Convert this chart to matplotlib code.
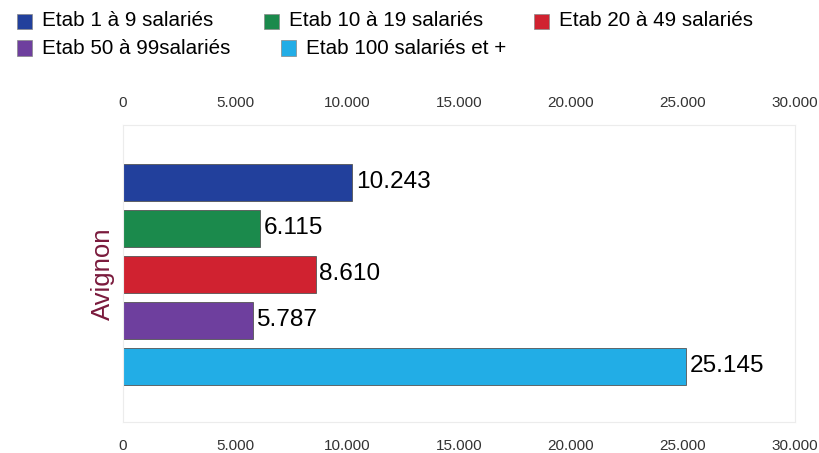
import matplotlib.pyplot as plt
from matplotlib.patches import Rectangle
from matplotlib.ticker import FuncFormatter

plt.rcParams['font.family'] = ['Liberation Sans', 'DejaVu Sans']

# Données
categories = ["Etab 1 à 9 salariés", "Etab 10 à 19 salariés", "Etab 20 à 49 salariés",
              "Etab 50 à 99salariés", "Etab 100 salariés et +"]
valeurs = [10243, 6115, 8610, 5787, 25145]
couleurs = ["#22409c", "#1b8a4c", "#d02230", "#6e3f9e", "#22ade6"]
ville = "Avignon"
ticks = [0, 5000, 10000, 15000, 20000, 25000, 30000]


def fmt(v, pos=None):
    return f"{int(v):,}".replace(",", ".")


fig = plt.figure(figsize=(8.19, 4.53), dpi=100)
ax = fig.add_axes([0.1502, 0.0684, 0.8205, 0.6556])

pos = list(range(len(valeurs)))
ax.barh(pos, valeurs, height=0.8, color=couleurs, edgecolor="#555555", linewidth=0.6)
for p, v in zip(pos, valeurs):
    ax.text(v + 150, p, fmt(v), va="center", ha="left", fontsize=17.6, color="black")

ax.set_xlim(0, 30000)
ax.set_ylim(5.21, -1.25)
ax.set_xticks(ticks)
ax.xaxis.set_major_formatter(FuncFormatter(fmt))
ax.tick_params(axis="x", length=0, labelsize=11, labelcolor="#333333", pad=12.5)
ax.set_yticks([])
for s in ax.spines.values():
    s.set_color("#ececec")
    s.set_linewidth(0.8)

# axe du haut
sec = ax.secondary_xaxis("top")
sec.set_xticks(ticks)
sec.xaxis.set_major_formatter(FuncFormatter(fmt))
sec.tick_params(axis="x", length=0, labelsize=11, labelcolor="#333333", pad=11)
sec.spines["top"].set_visible(False)

fig.text(102.5 / 819, 1 - 274 / 453, ville, rotation=90, fontsize=18.5,
         color="#7a1a3c", ha="center", va="center")

# Légende
leg_pos = [(17, 21), (264, 21), (534, 21), (17, 48), (281, 48)]
for (x, y), c, lab in zip(leg_pos, couleurs, categories):
    fig.patches.append(Rectangle((x / 819, 1 - (y + 7.5) / 453), 15 / 819, 15 / 453,
                                 transform=fig.transFigure, facecolor=c,
                                 edgecolor="#888888", linewidth=0.5))
    fig.text((x + 25) / 819, 1 - y / 453, lab, fontsize=14.9, va="center", ha="left")

fig.savefig("out.png", dpi=100)
